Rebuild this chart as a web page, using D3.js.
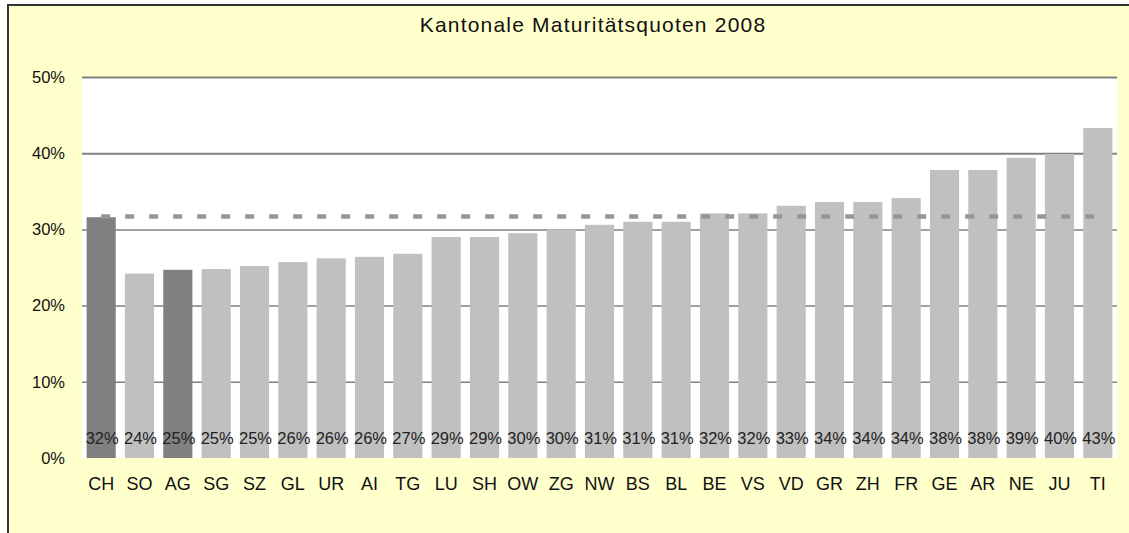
<!DOCTYPE html>
<html>
<head>
<meta charset="utf-8">
<script src="https://cdn.jsdelivr.net/npm/d3@7"></script>
<style>
  body { margin: 0; background: #fff; }
  svg { display: block; font-family: "Liberation Sans", Arial, sans-serif; }
</style>
</head>
<body>
<div id="chart"></div>
<script>
  // cantons, sorted like in the original chart
  const cantons = ["CH","SO","AG","SG","SZ","GL","UR","AI","TG","LU","SH","OW","ZG","NW","BS","BL","BE","VS","VD","GR","ZH","FR","GE","AR","NE","JU","TI"];
  // Maturitätsquote in percent
  const quoten = [31.6,24.2,24.7,24.8,25.2,25.7,26.2,26.4,26.8,29.0,29.0,29.5,30.0,30.6,31.0,31.0,32.1,32.1,33.1,33.6,33.6,34.1,37.8,37.8,39.4,39.9,43.3];
  // bars drawn dark
  const highlighted = ["CH","AG"];
  // swiss average (dashed line)
  const mittel = 31.7;
  const yTicks = [0,10,20,30,40,50];

  const W = 1129, H = 533;
  const margin = {top: 77, right: 12, bottom: 75, left: 82};
  const width = W - margin.left - margin.right;
  const height = H - margin.top - margin.bottom;

  const svgRoot = d3.select("#chart").append("svg")
    .attr("width", W)
    .attr("height", H);

  // chart background and frame (only left & top visible)
  svgRoot.append("rect")
    .attr("x", 8).attr("y", 5)
    .attr("width", W).attr("height", H)
    .attr("fill", "#ffffcc");
  svgRoot.append("path")
    .attr("d", `M8,${H} V5 H${W}`)
    .attr("fill", "none")
    .attr("stroke", "#333")
    .attr("stroke-width", 2);

  svgRoot.append("text")
    .attr("x", 593).attr("y", 32)
    .attr("text-anchor", "middle")
    .style("font-size", "21px")
    .style("letter-spacing", "1.2px")
    .attr("fill", "#111")
    .text("Kantonale Maturitätsquoten 2008");

  const svg = svgRoot.append("g")
    .attr("transform", `translate(${margin.left}, ${margin.top})`);

  const x = d3.scaleBand()
    .range([0, width])
    .domain(cantons)
    .paddingInner(0.24)
    .paddingOuter(0.12);

  const y = d3.scaleLinear()
    .range([height, 0])
    .domain([0, 50]);

  // plot area
  svg.append("rect")
    .attr("width", width)
    .attr("height", height)
    .attr("fill", "#fff");

  // gridlines
  svg.append("g")
    .call(d3.axisLeft(y).tickValues(yTicks.slice(1)).tickSize(-width).tickFormat(""))
    .call(g => g.select(".domain").remove())
    .call(g => g.selectAll("line").attr("stroke", "#808080").attr("stroke-width", d => d >= 40 ? 2 : 1.5));

  // y axis labels
  svg.append("g")
    .attr("transform", "translate(-14,0)")
    .call(d3.axisLeft(y).tickValues(yTicks).tickSize(0).tickFormat(d => d + "%"))
    .call(g => g.select(".domain").remove())
    .call(g => g.selectAll("text")
      .attr("fill", "#111")
      .style("font-size", "16.5px")
      .style("font-family", "'Liberation Sans', Arial, sans-serif"));

  const data = cantons.map((c, i) => ({canton: c, value: quoten[i]}));

  svg.selectAll(".bar")
    .data(data)
    .join("rect")
      .attr("class", "bar")
      .attr("x", d => x(d.canton))
      .attr("y", d => y(d.value))
      .attr("width", x.bandwidth())
      .attr("height", d => height - y(d.value))
      .attr("fill", d => highlighted.includes(d.canton) ? "#808080" : "#c0c0c0");

  // average line
  svg.append("line")
    .attr("x1", x(cantons[0]) + x.bandwidth() / 2)
    .attr("x2", x(cantons[cantons.length - 1]) + x.bandwidth() / 2)
    .attr("y1", y(mittel))
    .attr("y2", y(mittel))
    .attr("stroke", "#969696")
    .attr("stroke-width", 4.5)
    .attr("stroke-dasharray", "9,15");

  // value labels
  svg.selectAll(".val")
    .data(data)
    .join("text")
      .attr("class", "val")
      .attr("x", d => x(d.canton) + x.bandwidth() / 2 + 1)
      .attr("y", height - 14)
      .attr("text-anchor", "middle")
      .attr("fill", "#222")
      .style("font-size", "16.5px")
      .text(d => Math.round(d.value) + "%");

  // x axis labels
  svg.append("g")
    .attr("transform", `translate(0, ${height})`)
    .call(d3.axisBottom(x).tickSize(0).tickPadding(19))
    .call(g => g.select(".domain").remove())
    .call(g => g.selectAll("text")
      .attr("fill", "#111")
      .style("font-size", "18px")
      .style("font-family", "'Liberation Sans', Arial, sans-serif"));
</script>
</body>
</html>
